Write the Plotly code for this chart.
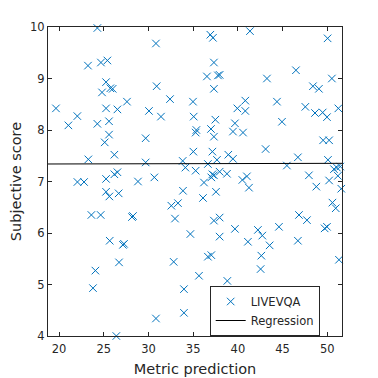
import plotly.graph_objects as go

metric = [24.29,30.84,23.24,24.69,25.41,25.26,25.74,26.00,24.81,30.92,32.41,34.98,19.66,25.26,26.53,27.60,22.05,21.05,24.29,25.59,30.06,31.40,35.06,25.59,29.69,35.36,
          25.11,35.28,26.19,23.28,29.69,35.02,33.83,34.13,35.28,22.06,22.80,25.26,26.19,26.53,28.83,30.66,25.26,25.63,26.67,33.86,23.62,24.66,28.16,28.27,32.56,33.30,32.97,34.69,
          25.67,27.15,27.27,26.71,24.07,23.80,32.82,35.65,33.97,33.97,30.84,26.41,
          36.92,37.21,41.35,50.03,37.32,36.54,37.77,37.96,43.25,46.49,50.51,48.39,49.06,37.32,40.83,39.94,40.83,44.37,47.54,48.62,49.48,49.96,51.23,37.48,39.67,44.93,36.99,39.45,40.57,37.32,
          49.53,50.20,37.15,38.93,39.45,43.10,37.66,36.65,45.48,46.71,50.07,50.74,51.07,51.45,51.18,37.15,37.32,37.03,37.96,38.78,40.50,41.01,41.24,36.21,37.55,36.10,47.94,48.77,50.20,51.56,50.57,50.94,46.83,47.72,37.32,37.96,39.67,42.24,44.59,49.70,49.96,37.96,42.73,
          41.12,43.55,46.71,36.65,37.03,42.62,42.54,51.30,38.82,39.45,41.76]
subjective = [9.98,9.68,9.25,9.31,9.35,8.93,8.81,8.80,8.73,8.85,8.60,8.55,8.42,8.42,8.40,8.55,8.27,8.09,8.12,8.17,8.37,8.26,8.26,7.91,7.84,8.00,
              7.76,7.95,7.52,7.43,7.37,7.58,7.40,7.27,7.21,6.99,6.99,7.05,7.14,7.18,7.00,7.08,6.80,6.71,6.77,6.82,6.35,6.35,6.31,6.33,6.53,6.58,6.28,5.98,
              5.85,5.77,5.79,5.43,5.27,4.93,5.44,5.17,4.91,4.45,4.34,4.00,
              9.85,9.79,9.92,9.78,9.31,9.04,9.06,9.07,9.00,9.16,9.00,8.85,8.80,8.80,8.57,8.42,8.37,8.55,8.45,8.33,8.34,8.25,8.42,8.20,8.13,8.16,8.02,7.97,7.95,7.87,
              7.80,7.80,7.58,7.52,7.44,7.63,7.42,7.34,7.31,7.47,7.42,7.24,7.27,7.29,7.11,7.14,7.12,7.08,7.19,7.15,7.03,7.10,6.88,6.98,6.80,6.68,7.12,6.90,7.02,6.86,6.59,6.48,6.35,6.25,6.24,6.30,6.08,6.06,6.12,6.09,6.12,5.93,5.95,
              5.83,5.76,5.85,5.54,5.57,5.56,5.30,5.48,5.07,4.86,4.75]

reg_x = [18.77, 50.0, 50.0, 51.64]
reg_y = [7.34, 7.34, 7.353, 7.353]

x_ticks = [20, 25, 30, 35, 40, 45, 50]
y_ticks = [4, 5, 6, 7, 8, 9, 10]

blue = "#0072BD"
fig = go.Figure()
fig.add_trace(go.Scatter(x=metric, y=subjective, mode="markers", name="LIVEVQA",
                         marker=dict(symbol="x-thin", size=7.5, color=blue,
                                     line=dict(color=blue, width=1)),
                         cliponaxis=False))
fig.add_trace(go.Scatter(x=reg_x, y=reg_y, mode="lines", name="Regression",
                         line=dict(color="black", width=1)))

axis_common = dict(showline=True, linecolor="#262626", linewidth=1, mirror="allticks",
                   ticks="inside", ticklen=4, tickcolor="#262626", showgrid=False,
                   zeroline=False, automargin=False, tickfont=dict(size=11.5, color="#262626"))
fig.update_xaxes(range=[18.77, 51.64], tickvals=x_ticks, ticklabelstandoff=2,
                 title=dict(text="Metric prediction", font=dict(size=14.5, color="#262626"), standoff=9),
                 **axis_common)
fig.update_yaxes(range=[4, 10], tickvals=y_ticks,
                 title=dict(text="Subjective score", font=dict(size=14.5, color="#262626"), standoff=7),
                 **axis_common)
fig.update_layout(width=370, height=370, margin=dict(l=40, r=36, t=19, b=42, pad=0),
                  plot_bgcolor="white", paper_bgcolor="white",
                  font=dict(family="DejaVu Sans", color="#262626"),
                  legend=dict(x=0.55, y=0.0, xanchor="left", yanchor="bottom",
                              bgcolor="white", bordercolor="#262626", borderwidth=1,
                              font=dict(size=11.5), tracegroupgap=0, itemwidth=30),
                  showlegend=True)
fig.write_html("out.html")
